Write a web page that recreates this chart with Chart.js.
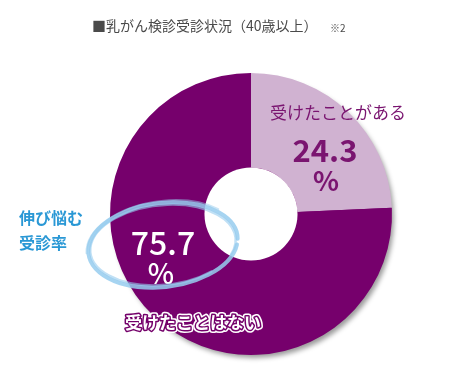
<!DOCTYPE html>
<html><head><meta charset="utf-8">
<script src="https://cdn.jsdelivr.net/npm/chart.js@4/dist/chart.umd.min.js"></script>
<style>html,body{margin:0;padding:0;background:#fff}#wrap{width:450px;height:380px}</style>
</head><body><div id="wrap"><canvas id="c" width="450" height="380"></canvas></div>
<script>
const categories = ['受けたことがある', '受けたことはない'];
const values = [24.3, 75.7];
const colors = ['#d0b2d1', '#76006c'];
const titleText = '■乳がん検診受診状況（40歳以上）';
const noteText = '※2';
const calloutLines = ['伸び悩む', '受診率'];
const FONT = '"Noto Sans CJK JP","Noto Sans",sans-serif';

const decor = {
  id: 'decor',
  beforeDatasetsDraw(chart) {
    const arc = chart.getDatasetMeta(0).data[0];
    const ctx = chart.ctx;
    ctx.save();
    ctx.shadowColor = 'rgba(0,0,0,0.4)';
    ctx.shadowBlur = 5;
    ctx.shadowOffsetX = 3;
    ctx.shadowOffsetY = 4;
    ctx.fillStyle = colors[1];
    ctx.beginPath();
    ctx.arc(arc.x, arc.y, arc.outerRadius - 1, 0, Math.PI * 2);
    ctx.fill();
    ctx.restore();
  },
  afterDatasetsDraw(chart) {
    const meta = chart.getDatasetMeta(0);
    const a0 = meta.data[0];
    const cx = a0.x, cy = a0.y;
    const ctx = chart.ctx;
    ctx.save();
    ctx.fillStyle = '#fff';
    ctx.beginPath();
    ctx.arc(cx, cy, a0.innerRadius, 0, Math.PI * 2);
    ctx.fill();

    ctx.textAlign = 'center';
    ctx.textBaseline = 'middle';
    ctx.fillStyle = '#7a1570';
    ctx.font = '17px ' + FONT;
    ctx.fillText(chart.data.labels[0], cx + 87, cy - 101);
    ctx.font = 'bold 31px ' + FONT;
    ctx.fillText(values[0].toFixed(1), cx + 74, cy - 64);
    ctx.font = 'bold 27px ' + FONT;
    ctx.fillText('%', cx + 75, cy - 33);

    ctx.fillStyle = '#fff';
    ctx.font = '500 32px ' + FONT;
    ctx.fillText(values[1].toFixed(1), cx - 88, cy + 29);
    ctx.font = '500 28px ' + FONT;
    ctx.fillText('%', cx - 90, cy + 59);

    ctx.font = 'bold 17px ' + FONT;
    ctx.lineJoin = 'round';
    ctx.strokeStyle = '#fff';
    ctx.lineWidth = 6;
    ctx.strokeText(chart.data.labels[1], cx - 58, cy + 109);
    ctx.strokeStyle = '#74006a';
    ctx.lineWidth = 3;
    ctx.strokeText(chart.data.labels[1], cx - 58, cy + 109);
    ctx.fillStyle = '#fff';
    ctx.fillText(chart.data.labels[1], cx - 58, cy + 109);

    const ex = cx - 88, ey = cy + 31;
    ctx.lineCap = 'round';
    const strokes = [
      {rx: 75, ry: 42, rot: -0.12, w: 4, a: 0.85, s: 0.2, e: 6.35},
      {rx: 73, ry: 40, rot: -0.10, w: 2.5, a: 0.6, s: 0.9, e: 6.7},
      {rx: 77, ry: 44, rot: -0.14, w: 2, a: 0.5, s: 3.2, e: 5.6}
    ];
    strokes.forEach(o => {
      ctx.strokeStyle = 'rgba(150,204,238,' + o.a + ')';
      ctx.lineWidth = o.w;
      ctx.beginPath();
      ctx.ellipse(ex, ey, o.rx, o.ry, o.rot, o.s, o.e);
      ctx.stroke();
    });

    ctx.fillStyle = '#2a98d5';
    ctx.font = 'bold 16px ' + FONT;
    ctx.textAlign = 'left';
    ctx.fillText(calloutLines[0], 19, cy + 4);
    ctx.fillText(calloutLines[1], 19, cy + 29);

    ctx.fillStyle = '#4a4a4a';
    ctx.font = '14px ' + FONT;
    ctx.fillText(titleText, 92, 26);
    ctx.font = '10px ' + FONT;
    ctx.fillText(noteText, 330, 28);
    ctx.restore();
  }
};

new Chart(document.getElementById('c'), {
  type: 'doughnut',
  data: {
    labels: categories,
    datasets: [{ data: values, backgroundColor: colors, borderWidth: 0, hoverOffset: 0 }]
  },
  options: {
    responsive: false,
    animation: false,
    cutout: '33%',
    rotation: 0,
    layout: { padding: { left: 110, right: 58, top: 73, bottom: 25 } },
    plugins: { legend: { display: false }, tooltip: { enabled: false }, title: { display: false } }
  },
  plugins: [decor]
});
</script>
</body></html>
